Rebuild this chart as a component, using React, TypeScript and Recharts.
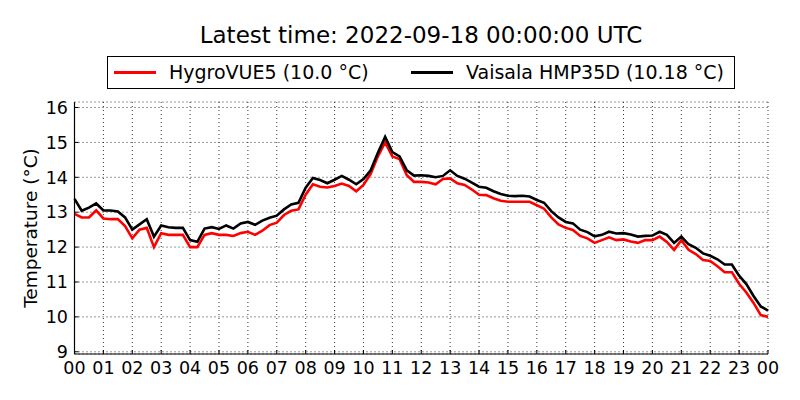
import React from 'react'
import { LineChart, Line, XAxis, YAxis, CartesianGrid } from 'recharts'

// 15-minute readings, 00:00 -> 24:00 (°C)
const hygroVue: number[] = [
  12.95, 12.85, 12.85, 13.05, 12.82, 12.8, 12.8, 12.6,
  12.25, 12.5, 12.55, 12.0, 12.4, 12.35, 12.35, 12.35,
  12.0, 12.0, 12.35, 12.4, 12.35, 12.35, 12.32, 12.4,
  12.44, 12.35, 12.47, 12.63, 12.7, 12.92, 13.04, 13.08,
  13.5, 13.8, 13.73, 13.71, 13.75, 13.82, 13.75, 13.6,
  13.78, 14.1, 14.6, 15.0, 14.6, 14.52, 14.06, 13.87,
  13.87, 13.85, 13.8, 13.95, 13.97, 13.83, 13.78, 13.65,
  13.5, 13.49, 13.4, 13.33, 13.3, 13.3, 13.3, 13.3,
  13.2, 13.1, 12.85, 12.65, 12.55, 12.49, 12.32, 12.25,
  12.12, 12.2, 12.28, 12.2, 12.22, 12.16, 12.12, 12.2,
  12.2, 12.3, 12.15, 11.92, 12.2, 11.92, 11.8, 11.63,
  11.6, 11.45, 11.28, 11.28, 10.95, 10.7, 10.4, 10.05,
  10.0,
]

const vaisala: number[] = [
  13.38, 13.04, 13.13, 13.25, 13.05, 13.05, 13.02, 12.85,
  12.5, 12.65, 12.8, 12.3, 12.62, 12.57, 12.55, 12.55,
  12.2, 12.15, 12.53, 12.57, 12.52, 12.62, 12.53, 12.68,
  12.72, 12.64, 12.76, 12.84, 12.9, 13.08, 13.22, 13.27,
  13.7, 13.98, 13.92, 13.83, 13.93, 14.04, 13.93, 13.8,
  13.95, 14.2, 14.7, 15.16, 14.72, 14.6, 14.2, 14.05,
  14.06, 14.04, 14.0, 14.04, 14.2, 14.04, 13.96, 13.85,
  13.73, 13.7, 13.6, 13.52, 13.47, 13.46, 13.47, 13.45,
  13.35, 13.27, 13.03, 12.85, 12.72, 12.68, 12.5, 12.43,
  12.31, 12.35, 12.44, 12.39, 12.4, 12.36, 12.3, 12.32,
  12.33, 12.44, 12.35, 12.12, 12.3, 12.08, 11.98, 11.82,
  11.75, 11.65, 11.5, 11.5, 11.18, 10.94, 10.6, 10.3,
  10.18,
]

const hourTicks = [0, 1, 2, 3, 4, 5, 6, 7, 8, 9, 10, 11, 12, 13, 14, 15, 16, 17, 18, 19, 20, 21, 22, 23, 24]
const tempTicks = [9, 10, 11, 12, 13, 14, 15, 16]

const data = vaisala.map((v, i) => ({ hour: i * 0.25, vaisala: v, hygro: hygroVue[i] }))

const font = '"DejaVu Sans", sans-serif'
const tickStyle = { fill: '#000', fontSize: 17.5, fontFamily: font }

export default function App() {
  return (
    <div style={{ position: 'absolute', left: 0, top: 0, width: 800, height: 400, background: '#fff', fontFamily: font }}>
      <div style={{ position: 'absolute', left: 0, width: 842, top: 20, textAlign: 'center', fontSize: 23, lineHeight: '30px' }}>
        Latest time: 2022-09-18 00:00:00 UTC
      </div>

      <div
        style={{
          position: 'absolute', left: 107, top: 56, width: 628, height: 33,
          border: '1px solid #000', boxSizing: 'border-box', fontSize: 19,
        }}
      >
        <div style={{ position: 'absolute', left: 6, top: 14, width: 42, height: 3, background: '#ff0000' }} />
        <div style={{ position: 'absolute', left: 61, top: 3, lineHeight: '24px', whiteSpace: 'nowrap' }}>HygroVUE5 (10.0 °C)</div>
        <div style={{ position: 'absolute', left: 303, top: 14, width: 42, height: 3, background: '#000' }} />
        <div style={{ position: 'absolute', left: 358, top: 3, lineHeight: '24px', whiteSpace: 'nowrap' }}>Vaisala HMP35D (10.18 °C)</div>
      </div>

      <div
        style={{
          position: 'absolute', left: 30, top: 228, fontSize: 18.5, whiteSpace: 'nowrap',
          transform: 'translate(-50%, -50%) rotate(-90deg)',
        }}
      >
        Temperature (°C)
      </div>

      <LineChart width={800} height={400} data={data} margin={{ top: 102, right: 32, bottom: 0, left: 0 }}>
        <CartesianGrid stroke="#000" strokeWidth={0.8} strokeDasharray="1 3" />
        <XAxis
          dataKey="hour"
          type="number"
          domain={[0, 24]}
          ticks={hourTicks}
          interval={0}
          height={46}
          tickFormatter={(h: number) => String(h % 24).padStart(2, '0')}
          tick={tickStyle}
          tickSize={-4}
          tickMargin={12}
          axisLine={{ stroke: '#000', strokeWidth: 1.2 }}
          tickLine={{ stroke: '#000' }}
        />
        <XAxis
          xAxisId="top"
          orientation="top"
          type="number"
          domain={[0, 24]}
          ticks={hourTicks}
          interval={0}
          height={0}
          tick={false}
          tickSize={-4}
          axisLine={{ stroke: '#000', strokeWidth: 1.2 }}
          tickLine={{ stroke: '#000' }}
        />
        <YAxis
          type="number"
          domain={[8.936, 16.158]}
          ticks={tempTicks}
          interval={0}
          allowDataOverflow
          width={74.5}
          tick={tickStyle}
          tickSize={-4}
          tickMargin={10.5}
          axisLine={{ stroke: '#000', strokeWidth: 1.2 }}
          tickLine={{ stroke: '#000' }}
        />
        <YAxis
          yAxisId="right"
          orientation="right"
          type="number"
          domain={[8.936, 16.158]}
          ticks={tempTicks}
          interval={0}
          allowDataOverflow
          width={0}
          tick={false}
          tickSize={-4}
          axisLine={{ stroke: '#000', strokeWidth: 1.2 }}
          tickLine={{ stroke: '#000' }}
        />
        <Line
          dataKey="hygro"
          type="linear"
          stroke="#ff0000"
          strokeWidth={2.6}
          dot={false}
          activeDot={false}
          isAnimationActive={false}
        />
        <Line
          dataKey="vaisala"
          type="linear"
          stroke="#000"
          strokeWidth={2.6}
          dot={false}
          activeDot={false}
          isAnimationActive={false}
        />
      </LineChart>
    </div>
  )
}
